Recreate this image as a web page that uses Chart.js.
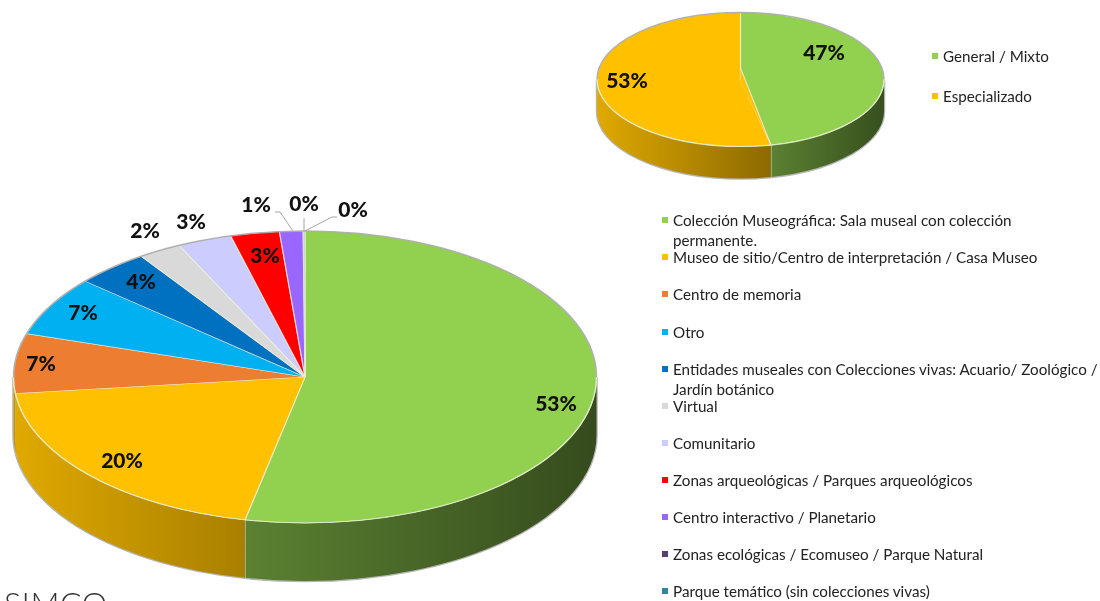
<!DOCTYPE html>
<html lang="es">
<head>
<meta charset="utf-8">
<title>Tipos de museos</title>
<script src="https://cdn.jsdelivr.net/npm/chart.js@4"></script>
<style>
    html, body { margin: 0; padding: 0; background: #fff; width: 1100px; height: 601px; overflow: hidden; }
    canvas { position: absolute; left: 0; top: 0; }
    .item { position: absolute; font: 15.2px/20px Lato, sans-serif; color: #222; white-space: pre-line; }
    .mark { position: absolute; width: 6px; height: 6px; }
    #logo { position: absolute; left: 4px; top: 583px; font: 300 32px/40px Lato, sans-serif; color: #333; letter-spacing: 0.5px; }
</style>
</head>
<body>
<canvas id="pie-tipos" width="1100" height="601"></canvas>
<canvas id="pie-coleccion" width="1100" height="601"></canvas>
<div id="logo">SIMCO</div>
<script>
// Datos
const tiposLabels = [
    'Colección Museográfica: Sala museal con colección\npermanente.',
    'Museo de sitio/Centro de interpretación / Casa Museo',
    'Centro de memoria',
    'Otro',
    'Entidades museales con Colecciones vivas: Acuario/ Zoológico /\nJardín botánico',
    'Virtual',
    'Comunitario',
    'Zonas arqueológicas / Parques arqueológicos',
    'Centro interactivo / Planetario',
    'Zonas ecológicas / Ecomuseo / Parque Natural',
    'Parque temático (sin colecciones vivas)'
];
const tiposValues = [53.3, 19.9, 6.6, 6.6, 4.1, 2.4, 3, 2.7, 1.3, 0.05, 0.05];
const tiposColors = ['#92D050', '#FFC000', '#ED7D31', '#00B0F0', '#0070C0', '#D9D9D9', '#CCCCFF', '#FF0000', '#9966FF', '#5B3F6E', '#31859C'];

const coleccionLabels = ['General / Mixto', 'Especializado'];
const coleccionValues = [46.6, 53.4];
const coleccionColors = ['#92D050', '#FFC000'];

function shade(hex, f) {
    const n = parseInt(hex.slice(1), 16);
    return `rgb(${Math.round((n >> 16) * f)},${Math.round(((n >> 8) & 255) * f)},${Math.round((n & 255) * f)})`;
}

// Plugin: aplasta el pie en una elipse, dibuja la pared lateral y las etiquetas
function pie3d(cfg) {
    const rx = cfg.radius;
    const drawWalls = (chart, ctx) => {
        const { cx, cy, ry, depth } = cfg;
        // sombra gris alrededor de la pared
        ctx.save();
        ctx.strokeStyle = '#b5b5b5';
        ctx.lineWidth = 2.5;
        ctx.beginPath();
        ctx.moveTo(cx + rx, cy);
        ctx.ellipse(cx, cy + depth, rx, ry, 0, 0, Math.PI);
        ctx.lineTo(cx - rx, cy);
        ctx.stroke();
        ctx.restore();

        const arcs = chart.getDatasetMeta(0).data;
        arcs.forEach((arc, i) => {
            const a0 = Math.max(arc.startAngle, 0);
            const a1 = Math.min(arc.endAngle, Math.PI);
            if (a1 <= a0) return;
            const x0 = cx + rx * Math.cos(a1);
            const x1 = cx + rx * Math.cos(a0);
            const grad = ctx.createLinearGradient(x0, 0, x1, 0);
            const s = cfg.wallShades[i] || cfg.wallShades[1];
            // en la referencia la pared izquierda es toda del color del segundo sector
            const base = tiposColors[Math.min(i, 1)];
            grad.addColorStop(0, shade(base, s[0]));
            grad.addColorStop(1, shade(base, s[1]));
            ctx.fillStyle = grad;
            ctx.beginPath();
            ctx.ellipse(cx, cy, rx, ry, 0, a0, a1);
            ctx.lineTo(x0, cy + ry * Math.sin(a1) + depth);
            ctx.ellipse(cx, cy + depth, rx, ry, 0, a1, a0, true);
            ctx.closePath();
            ctx.fill();
            // arista clara entre paredes
            if (i === 0) {
                ctx.strokeStyle = 'rgba(235,235,210,0.8)';
                ctx.lineWidth = 1.2;
                ctx.beginPath();
                ctx.moveTo(x0, cy + ry * Math.sin(a1));
                ctx.lineTo(x0, cy + ry * Math.sin(a1) + depth);
                ctx.stroke();
            }
        });
    };

    return {
        id: 'pie3d',
        beforeDatasetsDraw(chart) {
            const ctx = chart.ctx;
            drawWalls(chart, ctx);
            const c = chart.getDatasetMeta(0).data[0];
            ctx.save();
            ctx.translate(cfg.cx, cfg.cy);
            ctx.scale(1, cfg.ry / rx);
            ctx.translate(-c.x, -c.y);
        },
        afterDatasetsDraw(chart) {
            const ctx = chart.ctx;
            ctx.restore();
            ctx.save();
            // perspectiva: el vertice del pie queda mas arriba que el centro de la elipse
            if (cfg.apexY) {
                const a = chart.getDatasetMeta(0).data[0].endAngle;
                const px = cfg.cx + rx * Math.cos(a);
                const py = cfg.cy + cfg.ry * Math.sin(a);
                ctx.fillStyle = coleccionColors[1];
                ctx.beginPath();
                ctx.moveTo(cfg.cx, cfg.apexY);
                ctx.lineTo(cfg.cx, cfg.cy + 1);
                ctx.lineTo(px, py);
                ctx.closePath();
                ctx.fill();
                ctx.strokeStyle = 'rgba(240,240,220,0.75)';
                ctx.lineWidth = 1.2;
                ctx.beginPath();
                ctx.moveTo(cfg.cx, cfg.apexY);
                ctx.lineTo(px, py);
                ctx.stroke();
            }
            ctx.strokeStyle = 'rgba(170,170,170,0.9)';
            ctx.lineWidth = 1.5;
            ctx.beginPath();
            ctx.ellipse(cfg.cx, cfg.cy, rx, cfg.ry, 0, Math.PI, Math.PI * 2);
            ctx.stroke();
            ctx.strokeStyle = 'rgba(225,235,200,0.9)';
            ctx.lineWidth = 1.2;
            ctx.beginPath();
            ctx.ellipse(cfg.cx, cfg.cy, rx, cfg.ry, 0, 0, Math.PI);
            ctx.stroke();
            ctx.restore();
        },
        afterDraw(chart) {
            const ctx = chart.ctx;
            const values = chart.data.datasets[0].data;
            const total = values.reduce((acc, v) => acc + v, 0);
            ctx.save();
            // lineas guia de las etiquetas pequenas
            ctx.strokeStyle = '#a6a6a6';
            ctx.lineWidth = 1;
            (cfg.leaders || []).forEach(pts => {
                ctx.beginPath();
                pts.forEach((p, i) => i ? ctx.lineTo(p[0], p[1]) : ctx.moveTo(p[0], p[1]));
                ctx.stroke();
            });
            ctx.fillStyle = '#111';
            ctx.font = '900 21px Lato, sans-serif';
            ctx.textAlign = 'center';
            ctx.textBaseline = 'middle';
            values.forEach((v, i) => {
                const pos = cfg.labelPos[i];
                ctx.fillText(Math.round(v / total * 100) + '%', pos[0], pos[1]);
            });
            ctx.restore();
        }
    };
}

function makePie(id, labels, values, colors, cfg) {
    return new Chart(document.getElementById(id), {
        type: 'pie',
        data: {
            labels,
            datasets: [{
                data: values,
                backgroundColor: colors,
                borderColor: 'rgba(240,240,220,0.75)',
                borderWidth: 1.2,
                clip: false
            }]
        },
        options: {
            responsive: false,
            animation: false,
            radius: cfg.radius,
            events: [],
            plugins: { legend: { display: false }, tooltip: { enabled: false } }
        },
        plugins: [pie3d(cfg)]
    });
}

makePie('pie-tipos', tiposLabels, tiposValues, tiposColors, {
    radius: 291.5, cx: 305, cy: 377, ry: 146, depth: 58,
    wallShades: [[0.62, 0.36], [0.88, 0.66]],
    labelPos: [[556, 404], [122, 461], [41, 364], [83, 313], [141, 282], [145, 231], [191, 222], [265, 256], [256, 205], [304, 204], [353, 210]],
    leaders: [
        [[275, 212], [280, 212], [293, 231]],
        [[304, 218], [304, 231]],
        [[305, 231], [332, 217], [337, 217]]
    ]
});

makePie('pie-coleccion', coleccionLabels, coleccionValues, coleccionColors, {
    radius: 143.5, cx: 740.5, cy: 79.5, ry: 67, depth: 32, apexY: 68,
    wallShades: [[0.62, 0.38], [0.88, 0.55]],
    labelPos: [[824, 53], [627, 81]]
});

// Leyendas como texto real
function addLegend(labels, colors, textX, markX, rowY) {
    labels.forEach((label, i) => {
        const mark = document.createElement('div');
        mark.className = 'mark';
        mark.style.cssText = `left:${markX}px;top:${rowY[i] - 3}px;background:${colors[i]}`;
        document.body.appendChild(mark);
        const item = document.createElement('div');
        item.className = 'item';
        item.style.cssText = `left:${textX}px;top:${rowY[i] - 10}px`;
        item.textContent = label;
        document.body.appendChild(item);
    });
}
addLegend(tiposLabels, tiposColors, 673, 662, [220, 257, 294, 332, 369, 406, 443, 480, 517, 554, 591]);
addLegend(coleccionLabels, coleccionColors, 943, 932, [56, 96]);
</script>
</body>
</html>
